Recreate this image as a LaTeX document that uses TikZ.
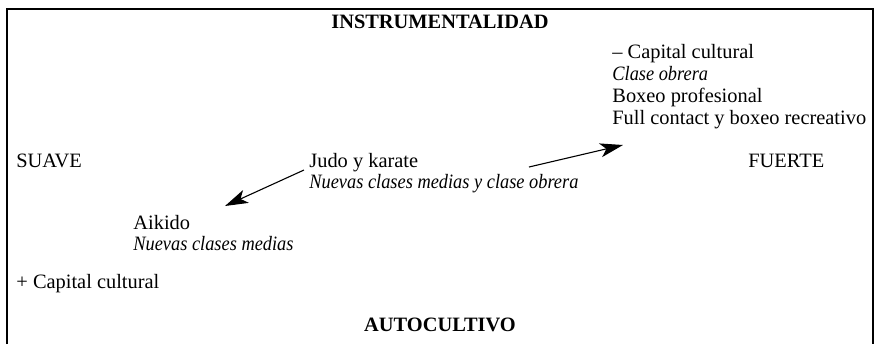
\documentclass[tikz,border=0pt]{standalone}
\usepackage{fontspec}
\usepackage{graphicx}
\setmainfont{Liberation Serif}
\usetikzlibrary{arrows.meta}
\newcommand{\itl}[1]{\scalebox{0.9}[1]{\itshape #1}}
\begin{document}
\begin{tikzpicture}[x=0.5pt,y=-0.5pt,
  lbl/.style={anchor=base west,inner sep=0pt,font=\fontsize{10.2}{11}\selectfont},
  ttl/.style={anchor=base,inner sep=0pt,font=\fontsize{10.2}{11}\selectfont\bfseries},
  arr/.style={line width=0.55pt,-{Stealth[length=11.5pt,width=7pt,inset=3pt]}}]
\useasboundingbox (0,0) rectangle (875,344);
\draw[line width=0.75pt] (7,344) -- (7,9) -- (873,9) -- (873,344);
\node[ttl] (top) at (440,28) {INSTRUMENTALIDAD};
\node[lbl] (cap1) at (612,58) {– Capital cultural};
\node[lbl] (clase) at (612,80) {\itl{Clase obrera}};
\node[lbl] (boxeo) at (612,102) {Boxeo profesional};
\node[lbl] (full) at (612,124) {Full contact y boxeo recreativo};
\node[lbl] (suave) at (16,167) {SUAVE};
\node[lbl] (judo) at (309,167) {Judo y karate};
\node[lbl] (nuevas1) at (309,188) {\itl{Nuevas clases medias y clase obrera}};
\node[lbl] (fuerte) at (748,167) {FUERTE};
\node[lbl] (aikido) at (133,229) {Aikido};
\node[lbl] (nuevas2) at (133,250) {\itl{Nuevas clases medias}};
\node[lbl] (capcult) at (16,288) {+ Capital cultural};
\node[ttl] (auto) at (440,331) {AUTOCULTIVO};
\coordinate (a1s) at (304,170);
\coordinate (a1e) at (225,206);
\coordinate (a2s) at (529,167);
\coordinate (a2e) at (623,145);
\draw[arr] (a1s) -- (a1e);
\draw[arr] (a2s) -- (a2e);
\end{tikzpicture}
\end{document}
